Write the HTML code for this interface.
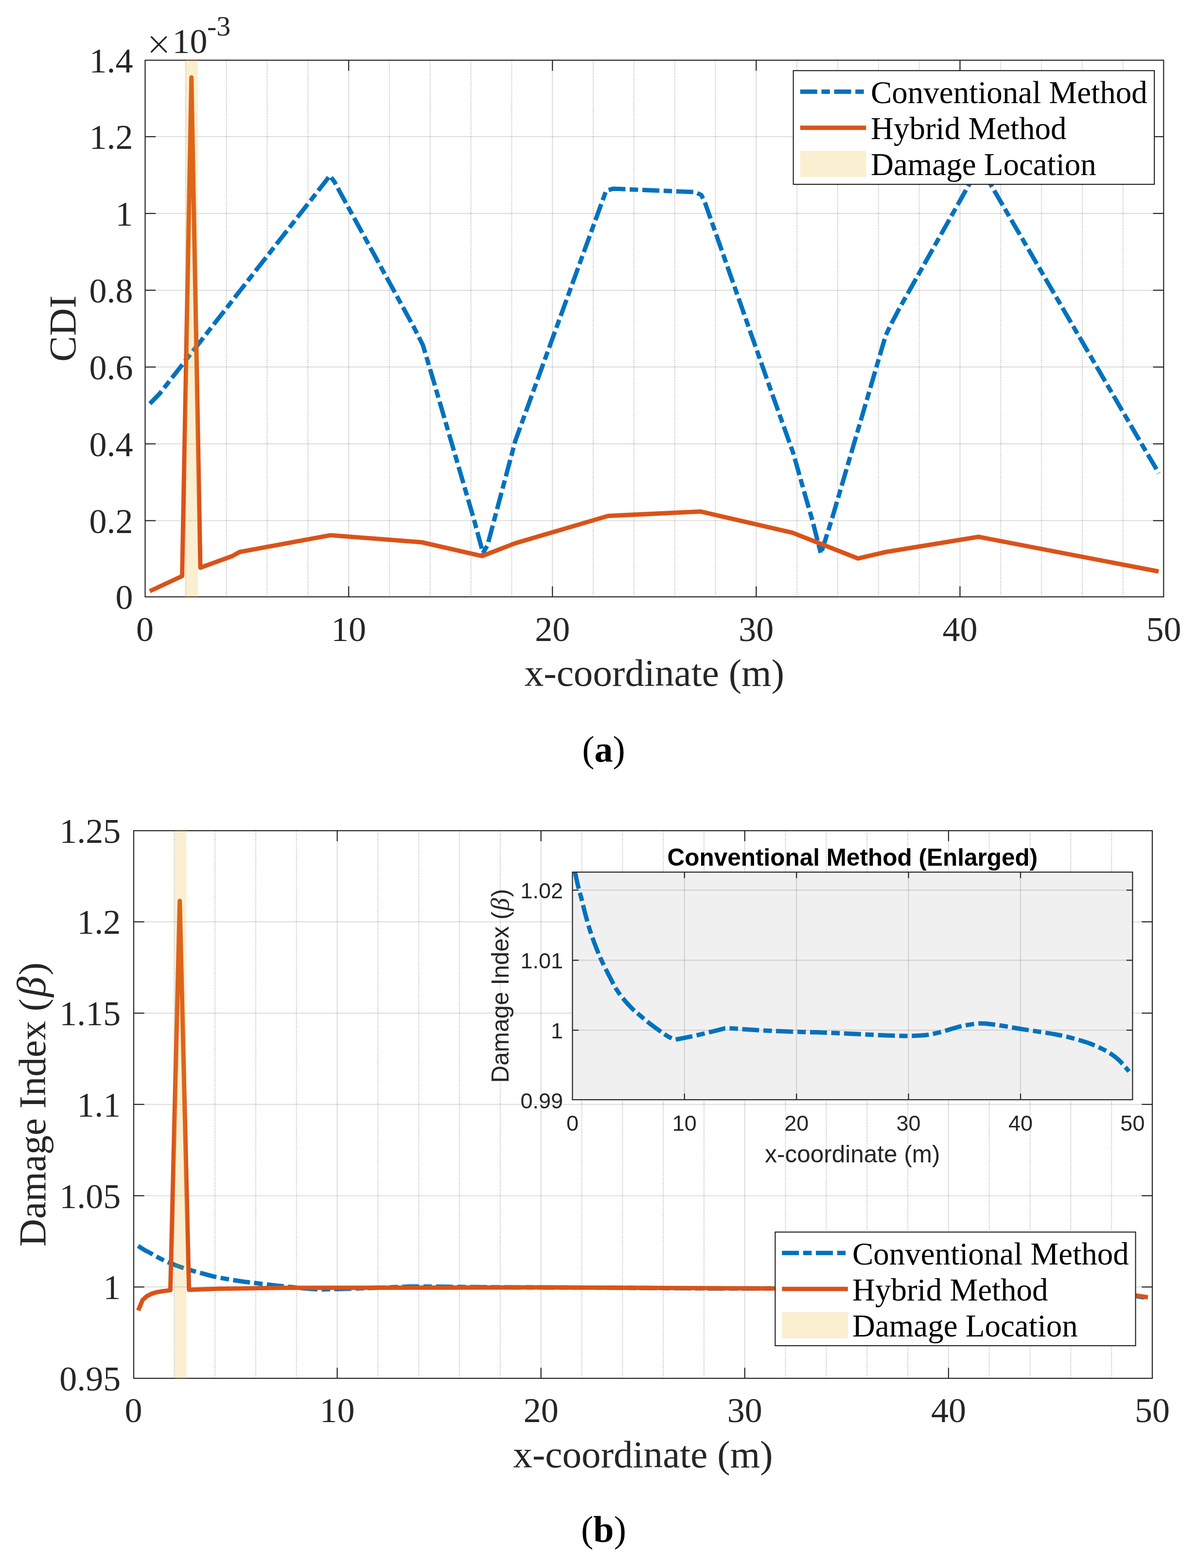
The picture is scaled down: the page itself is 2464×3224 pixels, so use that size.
<!DOCTYPE html>
<html lang="en"><head><meta charset="utf-8"><title>CDI and Damage Index comparison</title>
<style>
html,body{margin:0;padding:0;background:#fff;}
body{width:2464px;height:3224px;overflow:hidden;}
svg{display:block;}
text{font-family:"Liberation Serif",serif;fill:#262626;}
.ax{stroke:#262626;stroke-width:2.2;fill:none;}
rect.ax{stroke-linejoin:miter;}
.lgb{fill:#fff;stroke:#262626;stroke-width:2.2;}
.gg{stroke:#262626;stroke-opacity:0.15;stroke-width:2.2;}
.gi{stroke:#262626;stroke-opacity:0.15;stroke-width:2.2;}
.mg{stroke:#1a1a1a;stroke-opacity:0.25;stroke-width:2.2;stroke-dasharray:2.1 2.24;}
.bl{stroke:#0072BD;stroke-width:9;fill:none;stroke-dasharray:35 8.7 17.4 8.7;stroke-linejoin:round;}
.or{stroke:#D95319;stroke-width:9;fill:none;stroke-linejoin:round;}
.band{fill:#EDB120;fill-opacity:0.2;}
.tk{font-size:72px;}
.lb{font-size:79.2px;}
.lg{font-size:65px;fill:#000;}
.cap{font-size:76px;fill:#000;}
.beta{font-style:italic;font-family:"Liberation Serif",serif;font-size:84px;}
.itk{font-family:"Liberation Sans",sans-serif;font-size:45px;}
.ilb{font-family:"Liberation Sans",sans-serif;font-size:49.5px;}
.ibeta{font-style:italic;font-family:"Liberation Serif",serif;font-size:53px;}
.itt{font-family:"Liberation Sans",sans-serif;font-size:49.5px;font-weight:bold;fill:#000;}
</style></head>
<body>
<svg width="2464" height="3224" viewBox="0 0 2464 3224">
<rect width="2464" height="3224" fill="#fff"/>
<line x1="381.82" y1="123.8" x2="381.82" y2="1227.2" class="mg"/>
<line x1="465.65" y1="123.8" x2="465.65" y2="1227.2" class="mg"/>
<line x1="549.47" y1="123.8" x2="549.47" y2="1227.2" class="mg"/>
<line x1="633.3" y1="123.8" x2="633.3" y2="1227.2" class="mg"/>
<line x1="800.94" y1="123.8" x2="800.94" y2="1227.2" class="mg"/>
<line x1="884.77" y1="123.8" x2="884.77" y2="1227.2" class="mg"/>
<line x1="968.59" y1="123.8" x2="968.59" y2="1227.2" class="mg"/>
<line x1="1052.42" y1="123.8" x2="1052.42" y2="1227.2" class="mg"/>
<line x1="1220.06" y1="123.8" x2="1220.06" y2="1227.2" class="mg"/>
<line x1="1303.89" y1="123.8" x2="1303.89" y2="1227.2" class="mg"/>
<line x1="1387.71" y1="123.8" x2="1387.71" y2="1227.2" class="mg"/>
<line x1="1471.54" y1="123.8" x2="1471.54" y2="1227.2" class="mg"/>
<line x1="1639.18" y1="123.8" x2="1639.18" y2="1227.2" class="mg"/>
<line x1="1723.01" y1="123.8" x2="1723.01" y2="1227.2" class="mg"/>
<line x1="1806.83" y1="123.8" x2="1806.83" y2="1227.2" class="mg"/>
<line x1="1890.66" y1="123.8" x2="1890.66" y2="1227.2" class="mg"/>
<line x1="2058.3" y1="123.8" x2="2058.3" y2="1227.2" class="mg"/>
<line x1="2142.13" y1="123.8" x2="2142.13" y2="1227.2" class="mg"/>
<line x1="2225.95" y1="123.8" x2="2225.95" y2="1227.2" class="mg"/>
<line x1="2309.78" y1="123.8" x2="2309.78" y2="1227.2" class="mg"/>
<line x1="717.12" y1="123.8" x2="717.12" y2="1227.2" class="gg"/>
<line x1="1136.24" y1="123.8" x2="1136.24" y2="1227.2" class="gg"/>
<line x1="1555.36" y1="123.8" x2="1555.36" y2="1227.2" class="gg"/>
<line x1="1974.48" y1="123.8" x2="1974.48" y2="1227.2" class="gg"/>
<line x1="298.5" y1="1070.5" x2="2393.3" y2="1070.5" class="gg"/>
<line x1="298.5" y1="912.6" x2="2393.3" y2="912.6" class="gg"/>
<line x1="298.5" y1="754.7" x2="2393.3" y2="754.7" class="gg"/>
<line x1="298.5" y1="596.8" x2="2393.3" y2="596.8" class="gg"/>
<line x1="298.5" y1="438.9" x2="2393.3" y2="438.9" class="gg"/>
<line x1="298.5" y1="281" x2="2393.3" y2="281" class="gg"/>
<polyline points="308.3,830 327.9,810 494.3,597.1 669.2,373.3 678.2,361 688.2,374.3 697.7,392.1 850.8,672 869.8,709.5 888.9,773.6 975.5,1070.5 993.3,1137 1002.5,1121.5 1060,906 1246.7,392 1261.25,388 1430,395 1442.5,401 1450.8,419 1584.6,800 1631.6,932 1657.9,1025 1671.1,1070.7 1688.4,1138.4 1710,1070.7 1813.6,717.1 1821.6,690 1831.4,668.9 1849.3,635 1993.55,378.8 2012.6,348 2031.65,369 2347.9,912.7 2383.5,973" class="bl"/>
<polyline points="308,1215.5 374.6,1184.5 393.7,159.3 412.1,1167.3 477.9,1143.3 492.5,1135 680,1100.4 867.5,1115 991.7,1143.3 1059.2,1117.1 1250.8,1060.8 1440.4,1051.7 1630,1095.4 1764.6,1148.3 1821.7,1135 2012.5,1103.75 2383,1175" class="or"/>
<line x1="717.12" y1="1227.2" x2="717.12" y2="1205.5" class="ax"/>
<line x1="717.12" y1="123.8" x2="717.12" y2="145.5" class="ax"/>
<line x1="1136.24" y1="1227.2" x2="1136.24" y2="1205.5" class="ax"/>
<line x1="1136.24" y1="123.8" x2="1136.24" y2="145.5" class="ax"/>
<line x1="1555.36" y1="1227.2" x2="1555.36" y2="1205.5" class="ax"/>
<line x1="1555.36" y1="123.8" x2="1555.36" y2="145.5" class="ax"/>
<line x1="1974.48" y1="1227.2" x2="1974.48" y2="1205.5" class="ax"/>
<line x1="1974.48" y1="123.8" x2="1974.48" y2="145.5" class="ax"/>
<line x1="298.5" y1="1070.5" x2="320.2" y2="1070.5" class="ax"/>
<line x1="2393.3" y1="1070.5" x2="2371.6" y2="1070.5" class="ax"/>
<line x1="298.5" y1="912.6" x2="320.2" y2="912.6" class="ax"/>
<line x1="2393.3" y1="912.6" x2="2371.6" y2="912.6" class="ax"/>
<line x1="298.5" y1="754.7" x2="320.2" y2="754.7" class="ax"/>
<line x1="2393.3" y1="754.7" x2="2371.6" y2="754.7" class="ax"/>
<line x1="298.5" y1="596.8" x2="320.2" y2="596.8" class="ax"/>
<line x1="2393.3" y1="596.8" x2="2371.6" y2="596.8" class="ax"/>
<line x1="298.5" y1="438.9" x2="320.2" y2="438.9" class="ax"/>
<line x1="2393.3" y1="438.9" x2="2371.6" y2="438.9" class="ax"/>
<line x1="298.5" y1="281" x2="320.2" y2="281" class="ax"/>
<line x1="2393.3" y1="281" x2="2371.6" y2="281" class="ax"/>
<rect x="298.5" y="123.8" width="2094.8" height="1103.4" class="ax" fill="none"/>
<rect x="382" y="122.7" width="25.3" height="1105.6" class="band"/>
<text x="298" y="1317.5" class="tk" text-anchor="middle">0</text>
<text x="717.12" y="1317.5" class="tk" text-anchor="middle">10</text>
<text x="1136.24" y="1317.5" class="tk" text-anchor="middle">20</text>
<text x="1555.36" y="1317.5" class="tk" text-anchor="middle">30</text>
<text x="1974.48" y="1317.5" class="tk" text-anchor="middle">40</text>
<text x="2393.6" y="1317.5" class="tk" text-anchor="middle">50</text>
<text x="273.5" y="1252.2" class="tk" text-anchor="end">0</text>
<text x="273.5" y="1095.5" class="tk" text-anchor="end">0.2</text>
<text x="273.5" y="937.6" class="tk" text-anchor="end">0.4</text>
<text x="273.5" y="779.7" class="tk" text-anchor="end">0.6</text>
<text x="273.5" y="621.8" class="tk" text-anchor="end">0.8</text>
<text x="273.5" y="463.9" class="tk" text-anchor="end">1</text>
<text x="273.5" y="306" class="tk" text-anchor="end">1.2</text>
<text x="273.5" y="148.8" class="tk" text-anchor="end">1.4</text>
<text x="1345.9" y="1409.5" class="lb" text-anchor="middle">x-coordinate (m)</text>
<text transform="translate(154.6,675.5) rotate(-90)" class="lb" text-anchor="middle">CDI</text>
<text x="301.7" y="120.5" class="tk" style="font-size:88px;stroke:#fff;stroke-width:0.9px">×</text>
<text x="354.6" y="109.3" class="tk">10<tspan dx="-0.6" dy="-36.4" font-size="58">-3</tspan></text>
<rect x="1631.7" y="145.2" width="742.5" height="233.8" class="lgb"/>
<line x1="1645.8" y1="188.4" x2="1781.4" y2="188.4" class="bl"/>
<line x1="1645.8" y1="262.7" x2="1781.4" y2="262.7" class="or"/>
<rect x="1645.8" y="309.9" width="135.6" height="54" fill="#FBEFD2"/>
<text x="1791" y="211.8" class="lg">Conventional Method</text>
<text x="1791" y="286.1" class="lg">Hybrid Method</text>
<text x="1791" y="360.3" class="lg">Damage Location</text>
<text x="1241.5" y="1565.7" class="cap" text-anchor="middle">(<tspan font-weight="bold">a</tspan>)</text>
<line x1="358.32" y1="1708" x2="358.32" y2="2834" class="mg"/>
<line x1="442.14" y1="1708" x2="442.14" y2="2834" class="mg"/>
<line x1="525.96" y1="1708" x2="525.96" y2="2834" class="mg"/>
<line x1="609.78" y1="1708" x2="609.78" y2="2834" class="mg"/>
<line x1="777.42" y1="1708" x2="777.42" y2="2834" class="mg"/>
<line x1="861.24" y1="1708" x2="861.24" y2="2834" class="mg"/>
<line x1="945.06" y1="1708" x2="945.06" y2="2834" class="mg"/>
<line x1="1028.88" y1="1708" x2="1028.88" y2="2834" class="mg"/>
<line x1="1196.52" y1="1708" x2="1196.52" y2="2834" class="mg"/>
<line x1="1280.34" y1="1708" x2="1280.34" y2="2834" class="mg"/>
<line x1="1364.16" y1="1708" x2="1364.16" y2="2834" class="mg"/>
<line x1="1447.98" y1="1708" x2="1447.98" y2="2834" class="mg"/>
<line x1="1615.62" y1="1708" x2="1615.62" y2="2834" class="mg"/>
<line x1="1699.44" y1="1708" x2="1699.44" y2="2834" class="mg"/>
<line x1="1783.26" y1="1708" x2="1783.26" y2="2834" class="mg"/>
<line x1="1867.08" y1="1708" x2="1867.08" y2="2834" class="mg"/>
<line x1="2034.72" y1="1708" x2="2034.72" y2="2834" class="mg"/>
<line x1="2118.54" y1="1708" x2="2118.54" y2="2834" class="mg"/>
<line x1="2202.36" y1="1708" x2="2202.36" y2="2834" class="mg"/>
<line x1="2286.18" y1="1708" x2="2286.18" y2="2834" class="mg"/>
<line x1="693.6" y1="1708" x2="693.6" y2="2834" class="gg"/>
<line x1="1112.7" y1="1708" x2="1112.7" y2="2834" class="gg"/>
<line x1="1531.8" y1="1708" x2="1531.8" y2="2834" class="gg"/>
<line x1="1950.9" y1="1708" x2="1950.9" y2="2834" class="gg"/>
<line x1="275" y1="2646.2" x2="2370" y2="2646.2" class="gg"/>
<line x1="275" y1="2458.5" x2="2370" y2="2458.5" class="gg"/>
<line x1="275" y1="2270.8" x2="2370" y2="2270.8" class="gg"/>
<line x1="275" y1="2083.1" x2="2370" y2="2083.1" class="gg"/>
<line x1="275" y1="1895.4" x2="2370" y2="1895.4" class="gg"/>
<path d="M283.96,2561.72 C288.72,2564.97 293.08,2567.75 297.06,2570.08 C301.03,2572.4 303.48,2573.29 307.79,2575.67 C312.09,2578.04 317.46,2581.44 322.89,2584.33 C328.31,2587.22 333.83,2590.1 340.35,2592.99 C346.87,2595.89 354.78,2599 361.99,2601.68 C369.21,2604.37 375.33,2606.52 383.64,2609.1 C391.95,2611.68 402.47,2614.58 411.84,2617.16 C421.2,2619.75 429.75,2622.33 439.85,2624.6 C449.94,2626.88 461.92,2628.99 472.41,2630.79 C482.9,2632.6 494.84,2634.3 502.79,2635.43 C510.73,2636.55 510.7,2636.41 520.07,2637.53 C529.43,2638.66 546.02,2640.72 558.99,2642.19 C571.97,2643.66 586.37,2645.14 597.92,2646.33 C609.47,2647.51 618.17,2648.48 628.3,2649.32 C638.42,2650.15 648.55,2650.83 658.67,2651.35 C666.56,2651.16 678.08,2650.85 693.24,2650.41 C708.39,2649.97 730.86,2649.31 749.63,2648.69 C768.39,2648.08 789.95,2647.28 805.83,2646.72 C821.72,2646.15 834.76,2645.67 844.94,2645.29 C852.82,2645.25 864.34,2645.29 879.5,2645.42 C894.66,2645.54 916.4,2645.83 935.89,2646.01 C955.39,2646.2 975.55,2646.36 996.47,2646.51 C1017.38,2646.66 1037.57,2646.77 1061.4,2646.9 C1085.23,2647.02 1118.37,2647.17 1139.44,2647.26 C1160.51,2647.35 1161.72,2647.31 1187.83,2647.44 C1213.93,2647.58 1259.95,2647.84 1296.06,2648.07 C1332.16,2648.3 1375.58,2648.64 1404.47,2648.82 C1433.36,2649.01 1448.13,2649.1 1469.41,2649.19 C1490.69,2649.28 1511.94,2649.4 1532.16,2649.37 C1552.39,2649.34 1574.49,2649.22 1590.74,2649.01 C1606.99,2648.79 1617.41,2648.43 1629.66,2648.07 C1641.91,2647.7 1651.25,2647.34 1664.22,2646.82 C1677.2,2646.3 1693.09,2645.52 1707.52,2644.97 C1721.95,2644.43 1735.5,2643.92 1750.81,2643.54 C1766.12,2643.16 1784.07,2642.75 1799.38,2642.68 C1814.69,2642.61 1824.63,2642.82 1842.67,2643.13 C1860.71,2643.43 1889.57,2644.12 1907.61,2644.53 C1925.65,2644.94 1932.83,2645.18 1950.9,2645.6 C1968.97,2646.01 1994.34,2646.54 2016.02,2647.03 C2037.7,2647.51 2062.92,2648.05 2080.96,2648.51 C2099,2648.98 2109.82,2649.32 2124.25,2649.81 C2138.68,2650.31 2153.11,2650.87 2167.54,2651.48 C2181.97,2652.08 2196.41,2652.68 2210.84,2653.45 C2225.27,2654.23 2241.12,2655.22 2254.13,2656.13 C2267.13,2657.04 2278.05,2657.89 2288.87,2658.92 C2299.7,2659.95 2307.79,2660.75 2319.07,2662.33 C2330.35,2663.9 2342.84,2665.91 2356.54,2668.36" class="bl"/>
<polyline points="284.3,2694.5 293.2,2673 302.1,2665 312.9,2659.6 323.6,2656.6 336,2654.6 350.4,2652.9 369.7,1852.5 388.75,2652.1 448.6,2649.8 570,2648 1100,2647.1 1594,2649.2 2200,2653 2300,2659 2336.6,2663.6 2361,2667.5" class="or"/>
<line x1="693.6" y1="2834" x2="693.6" y2="2812.3" class="ax"/>
<line x1="693.6" y1="1708" x2="693.6" y2="1729.7" class="ax"/>
<line x1="1112.7" y1="2834" x2="1112.7" y2="2812.3" class="ax"/>
<line x1="1112.7" y1="1708" x2="1112.7" y2="1729.7" class="ax"/>
<line x1="1531.8" y1="2834" x2="1531.8" y2="2812.3" class="ax"/>
<line x1="1531.8" y1="1708" x2="1531.8" y2="1729.7" class="ax"/>
<line x1="1950.9" y1="2834" x2="1950.9" y2="2812.3" class="ax"/>
<line x1="1950.9" y1="1708" x2="1950.9" y2="1729.7" class="ax"/>
<line x1="275" y1="2646.2" x2="296.7" y2="2646.2" class="ax"/>
<line x1="2370" y1="2646.2" x2="2348.3" y2="2646.2" class="ax"/>
<line x1="275" y1="2458.5" x2="296.7" y2="2458.5" class="ax"/>
<line x1="2370" y1="2458.5" x2="2348.3" y2="2458.5" class="ax"/>
<line x1="275" y1="2270.8" x2="296.7" y2="2270.8" class="ax"/>
<line x1="2370" y1="2270.8" x2="2348.3" y2="2270.8" class="ax"/>
<line x1="275" y1="2083.1" x2="296.7" y2="2083.1" class="ax"/>
<line x1="2370" y1="2083.1" x2="2348.3" y2="2083.1" class="ax"/>
<line x1="275" y1="1895.4" x2="296.7" y2="1895.4" class="ax"/>
<line x1="2370" y1="1895.4" x2="2348.3" y2="1895.4" class="ax"/>
<rect x="275" y="1708" width="2095" height="1126" class="ax" fill="none"/>
<rect x="358.9" y="1706.9" width="24.4" height="1128.2" class="band"/>
<text x="274.5" y="2923.6" class="tk" text-anchor="middle">0</text>
<text x="693.6" y="2923.6" class="tk" text-anchor="middle">10</text>
<text x="1112.7" y="2923.6" class="tk" text-anchor="middle">20</text>
<text x="1531.8" y="2923.6" class="tk" text-anchor="middle">30</text>
<text x="1950.9" y="2923.6" class="tk" text-anchor="middle">40</text>
<text x="2370" y="2923.6" class="tk" text-anchor="middle">50</text>
<text x="248.3" y="2859" class="tk" text-anchor="end">0.95</text>
<text x="248.3" y="2671.2" class="tk" text-anchor="end">1</text>
<text x="248.3" y="2483.5" class="tk" text-anchor="end">1.05</text>
<text x="248.3" y="2295.8" class="tk" text-anchor="end">1.1</text>
<text x="248.3" y="2108.1" class="tk" text-anchor="end">1.15</text>
<text x="248.3" y="1920.4" class="tk" text-anchor="end">1.2</text>
<text x="248.3" y="1733" class="tk" text-anchor="end">1.25</text>
<text x="1322.5" y="3016.5" class="lb" text-anchor="middle">x-coordinate (m)</text>
<text transform="translate(93.2,2271) rotate(-90)" class="lb" text-anchor="middle">Damage Index (<tspan class="beta" dx="3">β</tspan><tspan dx="3">)</tspan></text>
<rect x="1594.4" y="2533.3" width="741.2" height="233.6" class="lgb"/>
<line x1="1608.3" y1="2576.3" x2="1743.9" y2="2576.3" class="bl"/>
<line x1="1608.3" y1="2650.3" x2="1743.9" y2="2650.3" class="or"/>
<rect x="1608.3" y="2698" width="135.6" height="54" fill="#FBEFD2"/>
<text x="1753" y="2599.7" class="lg">Conventional Method</text>
<text x="1753" y="2673.7" class="lg">Hybrid Method</text>
<text x="1753" y="2748.4" class="lg">Damage Location</text>
<rect x="1177.4" y="1793.2" width="1152" height="467.9" fill="#F0F0F0"/>
<line x1="1407.8" y1="1793.2" x2="1407.8" y2="2261.1" class="gi"/>
<line x1="1638.2" y1="1793.2" x2="1638.2" y2="2261.1" class="gi"/>
<line x1="1868.6" y1="1793.2" x2="1868.6" y2="2261.1" class="gi"/>
<line x1="2099" y1="1793.2" x2="2099" y2="2261.1" class="gi"/>
<line x1="1177.4" y1="2118.2" x2="2329.4" y2="2118.2" class="gi"/>
<line x1="1177.4" y1="1974.4" x2="2329.4" y2="1974.4" class="gi"/>
<line x1="1177.4" y1="1830.2" x2="2329.4" y2="1830.2" class="gi"/>
<clipPath id="ic"><rect x="1177.4" y="1792.2" width="1152" height="469.9"/></clipPath>
<path d="M1182.6,1793.1 C1185.22,1805.57 1187.62,1816.27 1189.8,1825.2 C1191.98,1834.13 1193.33,1837.57 1195.7,1846.7 C1198.07,1855.83 1201.02,1868.9 1204,1880 C1206.98,1891.1 1210.02,1902.18 1213.6,1913.3 C1217.18,1924.42 1221.53,1936.38 1225.5,1946.7 C1229.47,1957.02 1232.83,1965.28 1237.4,1975.2 C1241.97,1985.12 1247.75,1996.27 1252.9,2006.2 C1258.05,2016.13 1262.75,2026.07 1268.3,2034.8 C1273.85,2043.53 1280.43,2051.67 1286.2,2058.6 C1291.97,2065.53 1298.53,2072.08 1302.9,2076.4 C1307.27,2080.72 1307.25,2080.17 1312.4,2084.5 C1317.55,2088.83 1326.67,2096.77 1333.8,2102.4 C1340.93,2108.03 1348.85,2113.73 1355.2,2118.3 C1361.55,2122.87 1366.33,2126.58 1371.9,2129.8 C1377.47,2133.02 1383.03,2135.62 1388.6,2137.6 C1392.93,2136.9 1399.27,2135.7 1407.6,2134 C1415.93,2132.3 1428.28,2129.77 1438.6,2127.4 C1448.92,2125.03 1460.77,2121.98 1469.5,2119.8 C1478.23,2117.62 1485.4,2115.78 1491,2114.3 C1495.33,2114.17 1501.67,2114.33 1510,2114.8 C1518.33,2115.27 1530.28,2116.4 1541,2117.1 C1551.72,2117.8 1562.8,2118.43 1574.3,2119 C1585.8,2119.57 1596.9,2120.02 1610,2120.5 C1623.1,2120.98 1641.32,2121.55 1652.9,2121.9 C1664.48,2122.25 1665.15,2122.08 1679.5,2122.6 C1693.85,2123.12 1719.15,2124.12 1739,2125 C1758.85,2125.88 1782.72,2127.18 1798.6,2127.9 C1814.48,2128.62 1822.6,2128.95 1834.3,2129.3 C1846,2129.65 1857.68,2130.12 1868.8,2130 C1879.92,2129.88 1892.07,2129.43 1901,2128.6 C1909.93,2127.77 1915.67,2126.4 1922.4,2125 C1929.13,2123.6 1934.27,2122.18 1941.4,2120.2 C1948.53,2118.22 1957.27,2115.2 1965.2,2113.1 C1973.13,2111 1980.58,2109.07 1989,2107.6 C1997.42,2106.13 2007.28,2104.57 2015.7,2104.3 C2024.12,2104.03 2029.58,2104.82 2039.5,2106 C2049.42,2107.18 2065.28,2109.82 2075.2,2111.4 C2085.12,2112.98 2089.07,2113.9 2099,2115.5 C2108.93,2117.1 2122.88,2119.13 2134.8,2121 C2146.72,2122.87 2160.58,2124.92 2170.5,2126.7 C2180.42,2128.48 2186.37,2129.8 2194.3,2131.7 C2202.23,2133.6 2210.17,2135.77 2218.1,2138.1 C2226.03,2140.43 2233.97,2142.72 2241.9,2145.7 C2249.83,2148.68 2258.55,2152.5 2265.7,2156 C2272.85,2159.5 2278.85,2162.73 2284.8,2166.7 C2290.75,2170.67 2295.2,2173.75 2301.4,2179.8 C2307.6,2185.85 2314.47,2193.58 2322,2203" class="bl" clip-path="url(#ic)"/>
<line x1="1407.8" y1="2261.1" x2="1407.8" y2="2248.6" class="ax"/>
<line x1="1407.8" y1="1793.2" x2="1407.8" y2="1805.7" class="ax"/>
<line x1="1638.2" y1="2261.1" x2="1638.2" y2="2248.6" class="ax"/>
<line x1="1638.2" y1="1793.2" x2="1638.2" y2="1805.7" class="ax"/>
<line x1="1868.6" y1="2261.1" x2="1868.6" y2="2248.6" class="ax"/>
<line x1="1868.6" y1="1793.2" x2="1868.6" y2="1805.7" class="ax"/>
<line x1="2099" y1="2261.1" x2="2099" y2="2248.6" class="ax"/>
<line x1="2099" y1="1793.2" x2="2099" y2="1805.7" class="ax"/>
<line x1="1177.4" y1="2118.2" x2="1189.9" y2="2118.2" class="ax"/>
<line x1="2329.4" y1="2118.2" x2="2316.9" y2="2118.2" class="ax"/>
<line x1="1177.4" y1="1974.4" x2="1189.9" y2="1974.4" class="ax"/>
<line x1="2329.4" y1="1974.4" x2="2316.9" y2="1974.4" class="ax"/>
<line x1="1177.4" y1="1830.2" x2="1189.9" y2="1830.2" class="ax"/>
<line x1="2329.4" y1="1830.2" x2="2316.9" y2="1830.2" class="ax"/>
<rect x="1177.4" y="1793.2" width="1152" height="467.9" class="ax" fill="none"/>
<text x="1177.4" y="2325" class="itk" text-anchor="middle">0</text>
<text x="1407.8" y="2325" class="itk" text-anchor="middle">10</text>
<text x="1638.2" y="2325" class="itk" text-anchor="middle">20</text>
<text x="1868.6" y="2325" class="itk" text-anchor="middle">30</text>
<text x="2099" y="2325" class="itk" text-anchor="middle">40</text>
<text x="2329.4" y="2325" class="itk" text-anchor="middle">50</text>
<text x="1158" y="2279.4" class="itk" text-anchor="end">0.99</text>
<text x="1158" y="2135" class="itk" text-anchor="end">1</text>
<text x="1158" y="1991.2" class="itk" text-anchor="end">1.01</text>
<text x="1158" y="1847" class="itk" text-anchor="end">1.02</text>
<text x="1753.4" y="2390.3" class="ilb" text-anchor="middle">x-coordinate (m)</text>
<text transform="translate(1046,2027.15) rotate(-90)" class="ilb" text-anchor="middle">Damage Index (<tspan class="ibeta" dx="1.5">β</tspan><tspan dx="2">)</tspan></text>
<text x="1753.4" y="1780.2" class="itt" text-anchor="middle">Conventional Method (Enlarged)</text>
<text x="1241.5" y="3169.5" class="cap" text-anchor="middle">(<tspan font-weight="bold">b</tspan>)</text>
</svg>
</body></html>
